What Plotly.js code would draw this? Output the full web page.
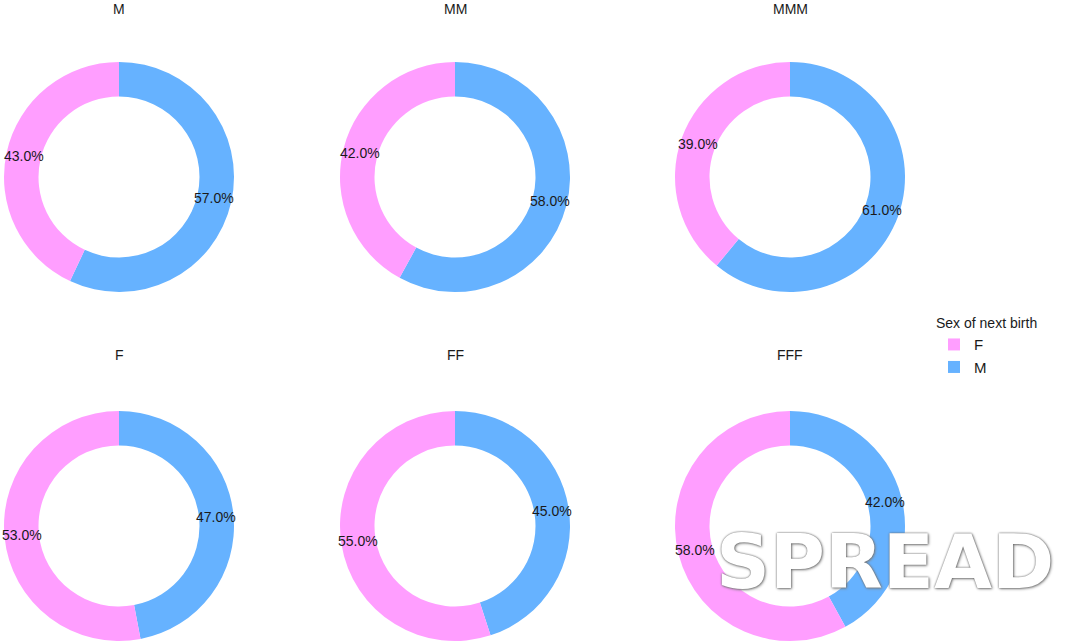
<!DOCTYPE html>
<html>
<head>
<meta charset="utf-8">
<script src="https://cdn.plot.ly/plotly-3.0.1.min.js"></script>
<style>
  html, body { margin: 0; padding: 0; background: #fff; }
  #chart { width: 1080px; height: 644px; }
</style>
</head>
<body>
<div id="chart"></div>
<script>
// one donut per previous-births pattern
var panels = ['M', 'MM', 'MMM', 'F', 'FF', 'FFF'];
var sexes = ['M', 'F'];
var pctM = [57.0, 58.0, 61.0, 47.0, 45.0, 42.0];
var pctF = [43.0, 42.0, 39.0, 53.0, 55.0, 58.0];
var sexColors = ['#66B2FF', '#FF9EFF'];

var W = 1080, H = 644;
var R = 115;
var HOLE = 0.70;
var centersX = [119, 455, 790];
var centersY = [177, 526];
var titleY = [9, 355];

var traces = [];
var annotations = [];

function label(cx, cy, frac, val) {
  // ggplot-style label: middle of the ring, middle of the slice
  var rMid = R * (1 + HOLE) / 2;
  var th = 2 * Math.PI * frac;
  annotations.push({
    text: val.toFixed(1) + '%',
    xref: 'paper', yref: 'paper',
    x: (cx + rMid * Math.sin(th)) / W,
    y: 1 - (cy - rMid * Math.cos(th)) / H,
    xanchor: 'center', yanchor: 'middle',
    showarrow: false,
    font: { size: 14, color: '#1a1a1a' }
  });
}

panels.forEach(function (name, i) {
  var col = i % 3, row = Math.floor(i / 3);
  var cx = centersX[col], cy = centersY[row];
  var total = pctM[i] + pctF[i];
  traces.push({
    type: 'pie',
    labels: sexes,
    values: [pctM[i], pctF[i]],
    marker: { colors: sexColors, line: { width: 0 } },
    hole: HOLE,
    sort: false,
    direction: 'clockwise',
    rotation: 0,
    textinfo: 'none',
    hoverinfo: 'none',
    showlegend: i === 0,
    domain: {
      x: [(cx - R) / W, (cx + R) / W],
      y: [1 - (cy + R) / H, 1 - (cy - R) / H]
    }
  });
  label(cx, cy, pctM[i] / 2 / total, pctM[i]);
  label(cx, cy, (pctM[i] + pctF[i] / 2) / total, pctF[i]);
  annotations.push({
    text: name,
    xref: 'paper', yref: 'paper',
    x: cx / W, y: 1 - titleY[row] / H,
    xanchor: 'center', yanchor: 'middle',
    showarrow: false,
    font: { size: 14, color: '#1a1a1a' }
  });
});

// watermark overlay
annotations.push({
  text: '<b>SPREAD</b>',
  xref: 'paper', yref: 'paper',
  x: 885 / W, y: 1 - 562 / H,
  xanchor: 'center', yanchor: 'middle',
  showarrow: false,
  font: { size: 75, color: '#ffffff', weight: 'bold',
          family: 'DejaVu Sans, Liberation Sans, sans-serif',
          shadow: '0 0 2px #555, 1px 1px 3px #888' }
});

var layout = {
  width: W, height: H,
  margin: { t: 0, b: 0, l: 0, r: 0, pad: 0 },
  paper_bgcolor: '#ffffff',
  font: { family: 'Liberation Sans, Arial, sans-serif', size: 13, color: '#1a1a1a' },
  showlegend: true,
  legend: {
    title: { text: 'Sex of next birth', font: { size: 14 }, side: 'top' },
    x: 934 / W, y: 1 - 310 / H,
    xanchor: 'left', yanchor: 'top',
    traceorder: 'reversed',
    font: { size: 15 },
    itemwidth: 30
  },
  annotations: annotations
};

Plotly.newPlot('chart', traces, layout, { displayModeBar: false, staticPlot: true });
</script>
</body>
</html>
